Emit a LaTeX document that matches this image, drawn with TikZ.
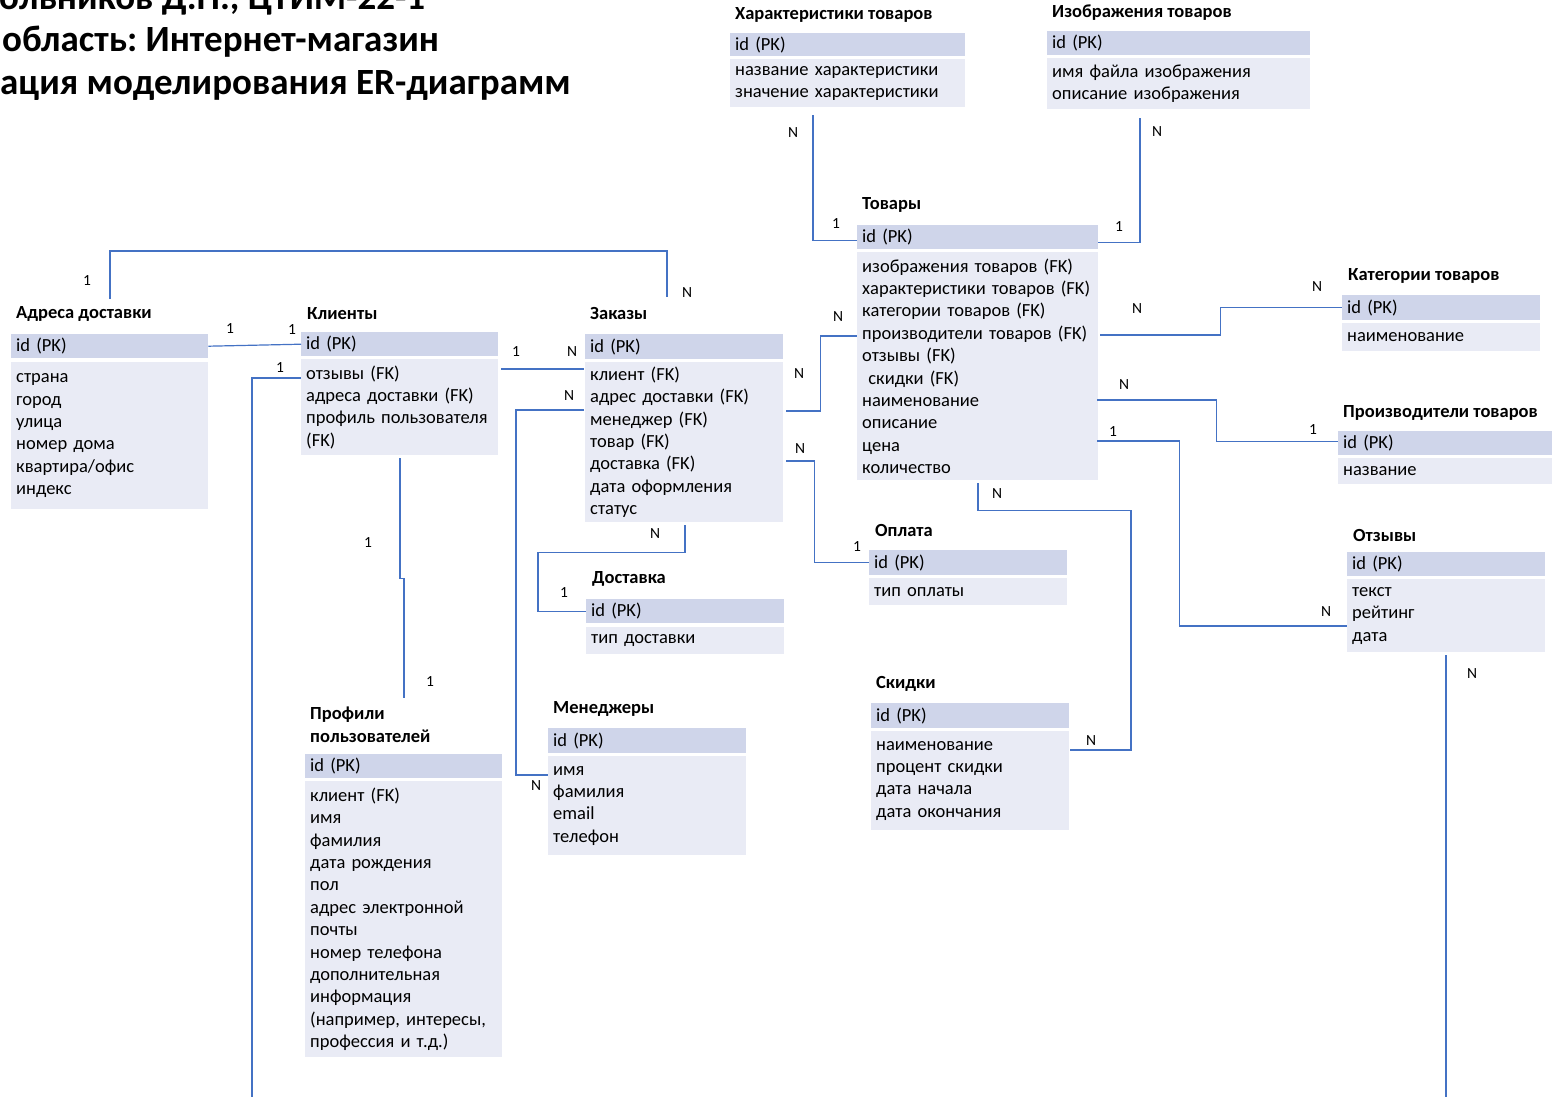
\documentclass[tikz,border=0pt]{standalone}
\usepackage{fontspec}
\setmainfont{Carlito}
\usetikzlibrary{calc}
\frenchspacing
\definecolor{pkfill}{HTML}{CFD5EA}
\definecolor{rowfill}{HTML}{E9EBF5}
\definecolor{relblue}{HTML}{4472C4}
\tikzset{
  head/.style={anchor=base west, inner sep=0pt, font=\fontsize{37}{42}\selectfont\bfseries},
  ttl/.style={anchor=west, inner sep=0pt, align=left, font=\fontsize{18.5}{23}\selectfont\bfseries},
  pkrow/.style={anchor=north west, fill=pkfill, inner xsep=5pt, inner ysep=0pt, text width=#1-10, align=left, font=\fontsize{18.5}{22.4}\selectfont},
  rows/.style={anchor=north west, fill=rowfill, inner xsep=5pt, inner ysep=0pt, text width=#1-10, align=left, font=\fontsize{18.5}{22.4}\selectfont},
  rel/.style={draw=relblue, line width=1.2pt},
  card/.style={inner sep=0pt, font=\fontsize{15.5}{16}\selectfont},
}

\begin{document}
\begin{tikzpicture}[x=1pt, y=-1pt]
	%%%%% START %%%%%
	\useasboundingbox (0,0) rectangle (1552,1097);
	\clip (0,0) rectangle (1552,1097);
	
	\node[head] (hdr1) at (-1,10) {ольников Д.Н., ЦТИМ-22-1};
	\node[head] (hdr2) at (2,52) {область: Интернет-магазин};
	\node[head] (hdr3) at (0,95) {ация моделирования ER-диаграмм};
	
	%% entities
	\node[ttl] (harT) at (735,15) {Характеристики товаров};
	\node[pkrow=235, minimum height=23] (harPK) at (730,33) {id (PK)};
	\node[rows=235, minimum height=48] (har) at (730,59) {название характеристики\\значение характеристики};
	
	\node[ttl] (imgT) at (1052,13) {Изображения товаров};
	\node[pkrow=263, minimum height=24] (imgPK) at (1047,31) {id (PK)};
	\node[rows=263, minimum height=51] (img) at (1047,58) {имя файла изображения\\описание изображения};
	
	\node[ttl] (tovT) at (862,205) {Товары};
	\node[pkrow=241, minimum height=24] (tovPK) at (857,225) {id (PK)};
	\node[rows=241, minimum height=228] (tov) at (857,252) {изображения товаров (FK)\\характеристики товаров (FK)\\категории товаров (FK)\\производители товаров (FK)\\отзывы (FK)\\\ скидки (FK)\\наименование\\описание\\цена\\количество};
	
	\node[ttl] (katT) at (1348,276) {Категории товаров};
	\node[pkrow=198, minimum height=25] (katPK) at (1342,295) {id (PK)};
	\node[rows=198, minimum height=28] (kat) at (1342,323) {наименование};
	
	\node[ttl] (proT) at (1343,413) {Производители товаров};
	\node[pkrow=214, minimum height=24] (proPK) at (1338,431) {id (PK)};
	\node[rows=214, minimum height=26] (pro) at (1338,458) {название};
	
	\node[ttl] (otzT) at (1353,535) {Отзывы};
	\node[pkrow=198, minimum height=24] (otzPK) at (1347,552) {id (PK)};
	\node[rows=198, minimum height=73] (otz) at (1347,579) {текст\\рейтинг\\дата};
	
	\node[ttl] (adrT) at (16,314) {Адреса доставки};
	\node[pkrow=197, minimum height=24] (adrPK) at (11,334) {id (PK)};
	\node[rows=197, minimum height=147] (adr) at (11,362) {страна\\город\\улица\\номер дома\\квартира/офис\\индекс};
	
	\node[ttl] (kliT) at (307,314) {Клиенты};
	\node[pkrow=197, minimum height=24] (kliPK) at (301,332) {id (PK)};
	\node[rows=197, minimum height=96] (kli) at (301,359) {отзывы (FK)\\адреса доставки (FK)\\профиль пользователя\\(FK)};
	
	\node[ttl] (zakT) at (590,314) {Заказы};
	\node[pkrow=198, minimum height=25] (zakPK) at (585,334) {id (PK)};
	\node[rows=198, minimum height=160] (zak) at (585,362) {клиент (FK)\\адрес доставки (FK)\\менеджер (FK)\\товар (FK)\\доставка (FK)\\дата оформления\\статус};
	
	\node[ttl] (dosT) at (592,579) {Доставка};
	\node[pkrow=198, minimum height=24] (dosPK) at (586,599) {id (PK)};
	\node[rows=198, minimum height=27] (dos) at (586,627) {тип доставки};
	
	\node[ttl] (oplT) at (875,530) {Оплата};
	\node[pkrow=198, minimum height=25] (oplPK) at (869,550) {id (PK)};
	\node[rows=198, minimum height=27] (opl) at (869,578) {тип оплаты};
	
	\node[ttl] (skiT) at (876,684) {Скидки};
	\node[pkrow=198, minimum height=25] (skiPK) at (871,703) {id (PK)};
	\node[rows=198, minimum height=99] (ski) at (871,731) {наименование\\процент скидки\\дата начала\\дата окончания};
	
	\node[ttl] (menT) at (553,709) {Менеджеры};
	\node[pkrow=198, minimum height=25] (menPK) at (548,728) {id (PK)};
	\node[rows=198, minimum height=99] (men) at (548,756) {имя\\фамилия\\email\\телефон};
	
	\node[ttl] (prfT) at (310,725) {Профили\\пользователей};
	\node[pkrow=197, minimum height=24] (prfPK) at (305,754) {id (PK)};
	\node[rows=197, minimum height=276] (prf) at (305,781) {клиент (FK)\\имя\\фамилия\\дата рождения\\пол\\адрес электронной\\почты\\номер телефона\\дополнительная\\информация\\(например, интересы,\\профессия и т.д.)};
	
	%% free ends at the bottom edge
	\coordinate (kliEnd) at (252,1097);
	\coordinate (otzEnd) at (1446,1097);
	
	%% relations
	\draw[rel] ($(har.south west)+(83,8)$) |- ($(tovPK.west)+(0,3)$);
	\draw[rel] ($(img.south west)+(93,9)$) |- ($(tovPK.east)+(0,5)$);
	\draw[rel] ($(adrPK.north west)+(99,-35)$) -- ++(0,-48) -| ($(zakPK.north west)+(82,-37)$);
	\draw[rel] (adrPK.east) -- (kliPK.west);
	\draw[rel] ($(kli.north west)+(0,19)$) -| (kliEnd);
	\draw[rel] ($(kli.south west)+(99,3)$) -- ++(0,120) -- ++(4,0) -- ++(0,120);
	\draw[rel] ($(kli.north east)+(3,10)$) -- ($(zak.north west)+(-1,7)$);
	\draw[rel] ($(zak.north west)+(-1,48)$) -- ++(-68,0) |- ($(men.north west)+(0,19)$);
	\draw[rel] ($(zak.north east)+(3,49)$) -- ++(34,0) |- ($(tov.north west)+(0,84)$);
	\draw[rel] ($(zak.north east)+(3,99)$) -- ++(28,0) |- (oplPK.west);
	\draw[rel] ($(zak.south west)+(100,3)$) -- ++(0,27) -- ++(-147,0) |- (dosPK.west);
	\draw[rel] ($(tov.north east)+(2,83)$) -- ++(120,0) |- (katPK.west);
	\draw[rel] ($(tov.north east)+(-1,148)$) -- ++(119,0) |- ($(proPK.west)+(0,-2)$);
	\draw[rel] ($(tov.north east)+(-1,189)$) -- ++(82,0) |- ($(otz.north west)+(0,47)$);
	\draw[rel] ($(tov.south west)+(121,3)$) -- ++(0,27) -- ++(153,0) |- ($(ski.north east)+(1,19)$);
	\draw[rel] ($(otz.south west)+(99,3)$) -- (otzEnd);
	
	%% cardinalities
	\foreach \x/\y/\t [count=\i] in {793/133/N, 836/224/1, 1157/132/N, 1119/227/1,
		87/281/1, 687/293/N, 230/329/1, 292/330/1, 280/368/1, 368/543/1, 430/682/1,
		516/352/1, 572/352/N, 569/396/N, 536/786/N, 799/374/N, 838/317/N, 800/449/N,
		857/547/1, 655/534/N, 564/593/1, 1137/309/N, 1317/287/N, 1124/385/N,
		1313/430/1, 1113/432/1, 1326/612/N, 997/494/N, 1091/741/N, 1472/674/N}
		\node[card] (c\i) at (\x,\y) {\t};
	%%%%% END %%%%%
\end{tikzpicture}
\end{document}
